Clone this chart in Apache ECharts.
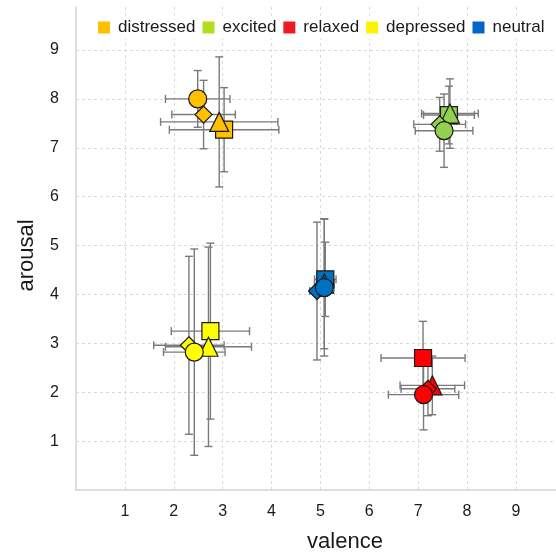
<!DOCTYPE html>
<html>
<head>
<meta charset="utf-8">
<script src="https://cdn.jsdelivr.net/npm/echarts@6/dist/echarts.min.js"></script>
<style>html,body{margin:0;padding:0;background:#fff}#c{width:556px;height:554px}</style>
</head>
<body>
<div id="c"></div>
<script>
// rows: [valence, arousal, valence error, arousal error], order: circle, diamond, triangle, square
const categories = ['distressed', 'excited', 'relaxed', 'depressed', 'neutral'];
const shapes = ['circle', 'diamond', 'triangle', 'rect'];
const distressed = [[2.49, 8.00, 0.66, 0.58], [2.61, 7.68, 0.65, 0.70], [2.93, 7.53, 1.20, 1.33], [3.03, 7.37, 1.12, 0.86]];
const excited = [[7.53, 7.35, 0.59, 0.75], [7.44, 7.48, 0.53, 0.55], [7.65, 7.70, 0.58, 0.71], [7.63, 7.67, 0.52, 0.59]];
const relaxed = [[7.11, 1.95, 0.72, 0.72], [7.20, 2.07, 0.55, 0.55], [7.29, 2.14, 0.66, 0.60], [7.10, 2.70, 0.86, 0.75]];
const depressed = [[2.42, 2.82, 0.63, 2.11], [2.31, 2.96, 0.72, 1.82], [2.71, 2.93, 0.88, 2.04], [2.75, 3.25, 0.80, 1.80]];
const neutral = [[5.08, 4.14, 0.20, 1.40], [4.93, 4.07, 0.15, 1.41], [5.08, 4.22, 0.20, 1.33], [5.10, 4.31, 0.22, 0.76]];
const xTicks = [1, 2, 3, 4, 5, 6, 7, 8, 9];
const yTicks = [1, 2, 3, 4, 5, 6, 7, 8, 9];

const groups = [distressed, excited, relaxed, depressed, neutral];
const markerColors = ['#FFC000', '#92D050', '#FF0000', '#FFFF00', '#0070C0'];
const legendColors = ['#FFC000', '#B0DF1E', '#ED1C24', '#FFF200', '#0066CC'];
const symbolSizes = {circle: 18, diamond: 17, triangle: 19, rect: 17};
const drawOrder = [3, 2, 1, 0]; // square below, circle on top

const font = '"Liberation Sans", Arial, sans-serif';
const series = [];

// error bars (all groups) underneath markers
const errData = [];
groups.forEach(g => g.forEach(r => errData.push(r)));
series.push({
  type: 'custom',
  z: 1,
  silent: true,
  data: errData,
  encode: {x: 0, y: 1},
  renderItem: function (params, api) {
    const x = api.value(0), y = api.value(1), ex = api.value(2), ey = api.value(3);
    const l = api.coord([x - ex, y]), r = api.coord([x + ex, y]);
    const t = api.coord([x, y + ey]), b = api.coord([x, y - ey]);
    const cap = 4;
    const st = {stroke: '#7a7a7a', lineWidth: 1.4};
    const line = (x1, y1, x2, y2) => ({type: 'line', shape: {x1, y1, x2, y2}, style: st});
    return {
      type: 'group',
      children: [
        line(l[0], l[1], r[0], r[1]),
        line(l[0], l[1] - cap, l[0], l[1] + cap),
        line(r[0], r[1] - cap, r[0], r[1] + cap),
        line(t[0], t[1], b[0], b[1]),
        line(t[0] - cap, t[1], t[0] + cap, t[1]),
        line(b[0] - cap, b[1], b[0] + cap, b[1])
      ]
    };
  }
});

categories.forEach((name, i) => {
  series.push({
    type: 'scatter',
    name: name,
    z: 3,
    data: drawOrder.map(k => ({
      value: [groups[i][k][0], groups[i][k][1]],
      symbol: shapes[k],
      symbolSize: symbolSizes[shapes[k]]
    })),
    itemStyle: {color: markerColors[i], borderColor: '#1a1a1a', borderWidth: 1.2, opacity: 1},
    emphasis: {disabled: true}
  });
});

const chart = echarts.init(document.getElementById('c'), null, {renderer: 'canvas'});
chart.setOption({
  animation: false,
  backgroundColor: '#fff',
  grid: {left: 76, right: 0, top: 7, bottom: 64, containLabel: false, outerBoundsMode: 'none'},
  legend: {
    data: categories.map((n, i) => ({name: n, icon: 'rect', itemStyle: {color: legendColors[i], borderWidth: 0}})),
    left: 93,
    top: 16,
    itemWidth: 12,
    itemHeight: 12,
    itemGap: 7,
    padding: [3, 5],
    backgroundColor: '#fff',
    textStyle: {fontFamily: font, fontSize: 17, color: '#1a1a1a', padding: [0, 0, 0, 3]}
  },
  xAxis: {
    type: 'value',
    min: 0,
    max: 9.82,
    interval: 1,
    name: 'valence',
    nameLocation: 'middle',
    nameGap: 41,
    nameTextStyle: {fontFamily: font, fontSize: 22, color: '#1a1a1a', padding: [0, 0, 0, 58]},
    axisLine: {show: true, lineStyle: {color: '#d4d4d4', width: 1.5}},
    axisTick: {show: false},
    axisLabel: {
      fontFamily: font, fontSize: 16, color: '#1a1a1a', margin: 14,
      showMinLabel: false, showMaxLabel: false,
      formatter: v => (xTicks.indexOf(v) >= 0 ? String(v) : '')
    },
    splitLine: {show: true, showMinLine: false, showMaxLine: false, lineStyle: {color: '#dadada', type: [3, 3], width: 1}}
  },
  yAxis: {
    type: 'value',
    min: 0,
    max: 9.88,
    interval: 1,
    name: 'arousal',
    nameLocation: 'middle',
    nameGap: 38,
    nameTextStyle: {fontFamily: font, fontSize: 22, color: '#1a1a1a', padding: [0, 14, 0, 0]},
    axisLine: {show: true, lineStyle: {color: '#d4d4d4', width: 1.5}},
    axisTick: {show: false},
    axisLabel: {
      fontFamily: font, fontSize: 16, color: '#1a1a1a', margin: 17, padding: [0, 0, 16, 0],
      showMinLabel: false, showMaxLabel: false,
      formatter: v => (yTicks.indexOf(v) >= 0 ? String(v) : '')
    },
    splitLine: {show: true, showMinLine: false, showMaxLine: false, lineStyle: {color: '#dadada', type: [3, 3], width: 1}}
  },
  series: series
});
</script>
</body>
</html>
